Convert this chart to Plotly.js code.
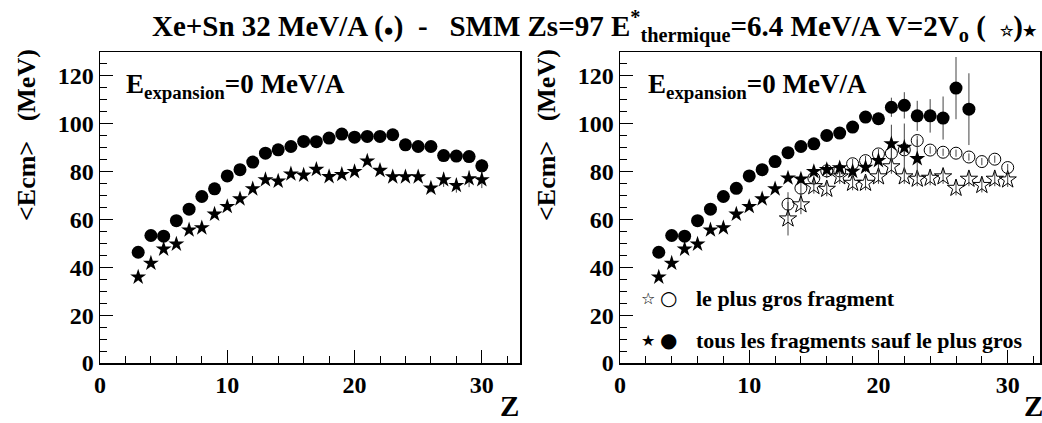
<!DOCTYPE html>
<html>
<head>
<meta charset="utf-8">
<script src="https://cdn.plot.ly/plotly-3.0.1.min.js"></script>
<style>html,body{margin:0;padding:0;background:#fff;}#chart{width:1042px;height:423px;}</style>
</head>
<body>
<div id="chart"></div>
<script>
// ---------- data ----------
// Left panel: all fragments
const zAll = [3,4,5,6,7,8,9,10,11,12,13,14,15,16,17,18,19,20,21,22,23,24,25,26,27,28,29,30];
const dataAll = [46.3,53.3,53.0,59.5,64.3,69.6,72.8,78.2,80.8,84.0,87.7,89.1,90.5,92.6,92.5,94.0,95.7,94.4,94.7,94.7,95.4,91.2,90.5,90.5,86.7,86.5,86.3,82.4];
const dataAllErr = [0,0,0,0,0,0,0,0,0,0,0,0,0,0,0,0,0,0.5,0.5,0.5,0.5,0.7,0.8,1,1,1.3,1.5,2.8];
const smmAll = [35.9,41.7,47.6,49.7,55.6,56.5,62.2,65.4,68.6,72.8,76.6,76.0,79.0,78.5,80.9,77.9,78.8,80.0,84.4,80.5,77.8,77.8,77.8,73.1,76.6,74.2,77.0,76.6];
const smmAllErr = [0,0,0,0,0,0,0,0,0,0,0.3,0.3,0.3,0.3,0.5,0.5,0.5,0.8,1.5,1,1,1.2,1.2,1.8,3,3,3.5,3.5];

// Right panel: all fragments except the largest
const zRestData = [3,4,5,6,7,8,9,10,11,12,13,14,15,16,17,18,19,20,21,22,23,24,25,26,27];
const dataRest = [46.3,53.3,53.0,59.5,64.3,69.6,73.0,78.2,80.8,84.2,87.9,90.5,91.6,95.1,96.1,98.6,102.8,102.1,106.9,107.7,103.3,103.3,102.4,114.9,106.1];
const dataRestErr = [0,0,0,0,0,0,0,0,0,0,0,0,0.3,0.5,0.5,1,1.5,2.5,4,5.5,6.3,7,9,13,15];
const zRestSmm = [3,4,5,6,7,8,9,10,11,12,13,14,15,16,17,18,19,20,21,22,23];
const smmRest = [35.9,41.7,47.6,49.7,55.6,56.5,62.2,65.4,68.6,72.8,77.3,76.9,80.0,80.8,81.6,80.1,81.8,84.6,91.6,90.1,85.4];
const smmRestErr = [0,0,0,0,0,0,0,0,0,0,1,1,1,1.5,1.5,2,2,3,8,10,8];

// Right panel: largest fragment
const zLargest = [13,14,15,16,17,18,19,20,21,22,23,24,25,26,27,28,29,30];
const dataLargest = [66.4,73.1,77.3,80.3,80.3,83.3,84.6,87.4,87.7,89.1,93.0,89.0,88.1,87.7,86.1,84.2,85.2,81.7];
const dataLargestErr = [5,3,3,3,2,2,2,2,2,2,2,1.5,1.5,1.5,1.5,1.5,1.5,1.5];
const smmLargest = [60.3,66.2,73.8,72.7,77.9,75.2,75.2,77.9,82.1,77.9,76.9,77.3,77.9,73.1,76.9,74.3,76.9,76.6];
const smmLargestErr = [7,4,3,3,3,3,3,3,3,3,3,3,3,3,3,3,3,3];

// text
const titleText = 'Xe+Sn 32 MeV/A (<span style="font-size:17px">●</span>)  -   SMM Zs=97 E<sup>*</sup><sub>thermique</sub>=6.4 MeV/A V=2V<sub>o</sub> (  <span style="font-size:15px">☆</span>)<span style="font-size:15px">★</span>';
const yTitle = '&lt;Ecm&gt;&nbsp;&nbsp;&nbsp;(MeV)';
const panelLabel = 'E<sub>expansion</sub>=0 MeV/A';
const legendLabels = ['le plus gros fragment', 'tous les fragments sauf le plus gros'];
const yTicks = [0,20,40,60,80,100,120];
const xTicks = [0,10,20,30];

// ---------- styles ----------
const FONT = 'Liberation Serif, Times New Roman, serif';
const W = 1042, H = 423;
const px = v => v / W;
const py = v => 1 - v / H;

function errY(arr) {
  return {type:'data', array: arr, visible: true, color:'#444', thickness: 1, width: 0};
}
function mk(x, y, e, symbol, size, xa, ya, lw) {
  return {
    x: x, y: y, xaxis: xa, yaxis: ya, type: 'scatter', mode: 'markers',
    error_y: errY(e),
    marker: {symbol: symbol, size: size, color: 'black', line: {color: 'black', width: lw || 0}},
    showlegend: false, hoverinfo: 'skip'
  };
}

const traces = [
  mk(zAll, dataAll, dataAllErr, 'circle', 13, 'x', 'y'),
  mk(zAll, smmAll, smmAllErr, 'star', 12, 'x', 'y'),
  mk(zRestData, dataRest, dataRestErr, 'circle', 13, 'x2', 'y2'),
  mk(zLargest, dataLargest, dataLargestErr, 'circle-open', 12, 'x2', 'y2', 1),
  mk(zLargest, smmLargest, smmLargestErr, 'star-open', 13, 'x2', 'y2', 1),
  mk(zRestSmm, smmRest, smmRestErr, 'star', 12, 'x2', 'y2'),
];

const tickFont = {family: FONT, size: 24, color: 'black', weight: 'bold'};
function xAxis(domain, range, anchor) {
  return {
    domain: domain, range: range, anchor: anchor,
    tickvals: xTicks, ticktext: xTicks.map(String),
    ticks: 'inside', ticklen: 13, tickwidth: 1, tickcolor: 'black',
    minor: {dtick: 2, tick0: 0, ticks: 'inside', ticklen: 7, tickwidth: 1, tickcolor: 'black', showgrid: false},
    showline: true, linecolor: 'black', linewidth: 1.5, mirror: true,
    showgrid: false, zeroline: false, tickfont: tickFont,
  };
}
function yAxis(domain, anchor) {
  return {
    domain: domain, range: [0, 130], anchor: anchor,
    tickvals: yTicks, ticktext: yTicks.map(String), ticksuffix: '\u00a0\u00a0',
    ticks: 'inside', ticklen: 13, tickwidth: 1, tickcolor: 'black',
    minor: {dtick: 5, tick0: 0, ticks: 'inside', ticklen: 7, tickwidth: 1, tickcolor: 'black', showgrid: false},
    showline: true, linecolor: 'black', linewidth: 1.5, mirror: true,
    showgrid: false, zeroline: false, tickfont: tickFont,
  };
}
const yDom = [1 - 363 / H, 1 - 52 / H];

const bold = (size) => ({family: FONT, size: size, color: 'black', weight: 'bold'});
const annotations = [
  {xref:'paper', yref:'paper', x: px(26), y: py(135), text: yTitle, textangle: -90, showarrow: false, font: bold(26), xanchor:'center', yanchor:'middle'},
  {xref:'paper', yref:'paper', x: px(546), y: py(135), text: yTitle, textangle: -90, showarrow: false, font: bold(26), xanchor:'center', yanchor:'middle'},
  {xref:'paper', yref:'paper', x: px(124), y: py(86), text: panelLabel, showarrow: false, font: bold(27), xanchor:'left', yanchor:'middle'},
  {xref:'paper', yref:'paper', x: px(646), y: py(86), text: panelLabel, showarrow: false, font: bold(27), xanchor:'left', yanchor:'middle'},
  {xref:'paper', yref:'paper', x: px(521), y: py(406), text: 'Z', showarrow: false, font: bold(29), xanchor:'right', yanchor:'middle'},
  {xref:'paper', yref:'paper', x: px(1022), y: py(406), text: 'Z', showarrow: false, font: bold(29), xanchor:'left', yanchor:'middle'},
  {xref:'paper', yref:'paper', x: px(694), y: py(298), text: legendLabels[0], showarrow: false, font: bold(22), xanchor:'left', yanchor:'middle'},
  {xref:'paper', yref:'paper', x: px(694), y: py(340), text: legendLabels[1], showarrow: false, font: bold(22), xanchor:'left', yanchor:'middle'},
  {xref:'paper', yref:'paper', x: px(648), y: py(298), text: '☆', showarrow: false, font: {family:'DejaVu Sans', size: 16, color:'black'}, xanchor:'center', yanchor:'middle'},
  {xref:'paper', yref:'paper', x: px(668), y: py(298), text: '○', showarrow: false, font: {family:'DejaVu Sans', size: 20, color:'black'}, xanchor:'center', yanchor:'middle'},
  {xref:'paper', yref:'paper', x: px(648), y: py(340), text: '★', showarrow: false, font: {family:'DejaVu Sans', size: 16, color:'black'}, xanchor:'center', yanchor:'middle'},
  {xref:'paper', yref:'paper', x: px(668), y: py(340), text: '●', showarrow: false, font: {family:'DejaVu Sans', size: 20, color:'black'}, xanchor:'center', yanchor:'middle'},
];

const layout = {
  width: W, height: H,
  margin: {l: 0, r: 0, t: 0, b: 0},
  paper_bgcolor: 'white', plot_bgcolor: 'white',
  font: {family: FONT, color: 'black'},
  title: {text: titleText, x: px(594), xanchor: 'center', xref: 'paper', y: py(26), yanchor: 'middle', yref: 'paper', font: bold(29)},
  xaxis: xAxis([px(100), px(520)], [0, 33], 'y'),
  yaxis: yAxis(yDom, 'x'),
  xaxis2: xAxis([px(620), px(1040)], [0, 32.5], 'y2'),
  yaxis2: yAxis(yDom, 'x2'),
  annotations: annotations,
  showlegend: false,
};

Plotly.newPlot('chart', traces, layout, {staticPlot: true, displayModeBar: false});
</script>
</body>
</html>
